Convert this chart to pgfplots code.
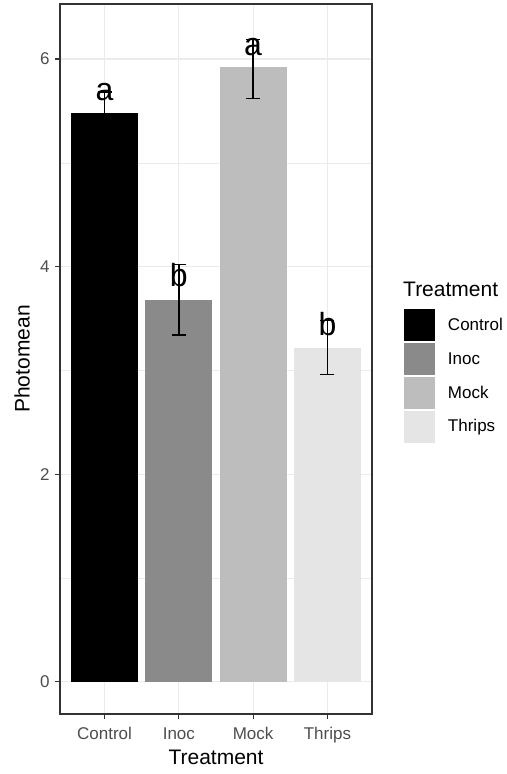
\documentclass[border=0pt]{standalone}
\usepackage{fontspec}
\setmainfont{Liberation Sans}
\usepackage{pgfplots}
\pgfplotsset{compat=1.18}
\definecolor{g92}{HTML}{EBEBEB}
\definecolor{g20}{HTML}{333333}
\definecolor{g30}{HTML}{4D4D4D}
\definecolor{cinoc}{HTML}{8A8A8A}
\definecolor{cmock}{HTML}{BDBDBD}
\definecolor{cthrips}{HTML}{E5E5E5}
\pgfplotsset{keyimg/.style={legend image code/.code={\fill[#1] (0pt,-16.5pt) rectangle (32pt,16.5pt);\draw[white,line width=0.8pt] (0pt,-16.5pt) rectangle (32pt,16.5pt);}}}
\pgfplotsset{eb/.style={error bars/.cd, y dir=both, y explicit,
  error bar style={line width=1.5pt, draw=black},
  error mark=-, error mark options={draw=black, line width=1.5pt, mark size=7pt, rotate=90}}}
\begin{document}
\begin{tikzpicture}
\begin{axis}[
  scale only axis, width=312pt, height=710pt,
  xmin=0.4, xmax=4.6, ymin=-0.311, ymax=6.53,
  xtick={1,2,3,4}, xticklabels={Control,Inoc,Mock,Thrips},
  ytick={0,2,4,6}, minor ytick={1,3,5},
  grid=both,
  major grid style={draw=g92, line width=1.1pt},
  minor grid style={draw=g92, line width=0.55pt},
  axis line style={draw=g20, line width=1.1pt},
  tick align=outside, tick pos=left,
  major tick length=5pt, minor tick length=0pt,
  tick style={draw=g20, line width=1.1pt},
  ticklabel style={font=\fontsize{17}{20}\selectfont, text=g30},
  xticklabel style={yshift=-5pt},
  yticklabel style={xshift=-2pt},
  /pgf/number format/assume math mode=true,
  xlabel={Treatment}, ylabel={Photomean},
  label style={font=\fontsize{21}{25}\selectfont, text=black},
  xlabel style={at={([yshift=-43pt]axis description cs:0.5,0)}, anchor=center},
  ylabel style={at={([xshift=-38pt]axis description cs:0,0.5)}, anchor=center},
  legend style={at={(1,0.5718)}, anchor=north west, xshift=31pt, draw=none, fill=none,
    inner sep=0pt, row sep=0pt, column sep=10pt, font=\fontsize{17}{20}\selectfont},
  legend cell align=left,
]
\addplot[forget plot, ybar, bar width=0.9, bar shift=0pt, fill=black, draw=none, eb]
  coordinates {(1,5.48) +- (0,0.20)};
\addplot[forget plot, ybar, bar width=0.9, bar shift=0pt, fill=cinoc, draw=none, eb]
  coordinates {(2,3.68) +- (0,0.34)};
\addplot[forget plot, ybar, bar width=0.9, bar shift=0pt, fill=cmock, draw=none, eb]
  coordinates {(3,5.92) += (0,0.27) -= (0,0.30)};
\addplot[forget plot, ybar, bar width=0.9, bar shift=0pt, fill=cthrips, draw=none, eb]
  coordinates {(4,3.22) +- (0,0.26)};
\addplot[forget plot, only marks, mark=none, nodes near coords, point meta=explicit symbolic,
  nodes near coords style={anchor=center, inner sep=0pt, font=\fontsize{32}{32}\selectfont, text=black}]
  table[meta=lab] {
x y lab
1 5.68 a
2 3.92 b
3 6.12 a
4 3.45 b
};
\addlegendimage{keyimg=black}
\addlegendimage{keyimg=cinoc}
\addlegendimage{keyimg=cmock}
\addlegendimage{keyimg=cthrips}
\legend{Control,Inoc,Mock,Thrips}
\end{axis}
\node[anchor=west, inner sep=0pt, font=\fontsize{21}{25}\selectfont] at ([xshift=31pt,yshift=-285pt]current axis.north east) {Treatment};
\pgfresetboundingbox
\path ([xshift=-60pt,yshift=-60pt]current axis.south west) rectangle ([xshift=135pt,yshift=4pt]current axis.north east);
\end{tikzpicture}
\end{document}
